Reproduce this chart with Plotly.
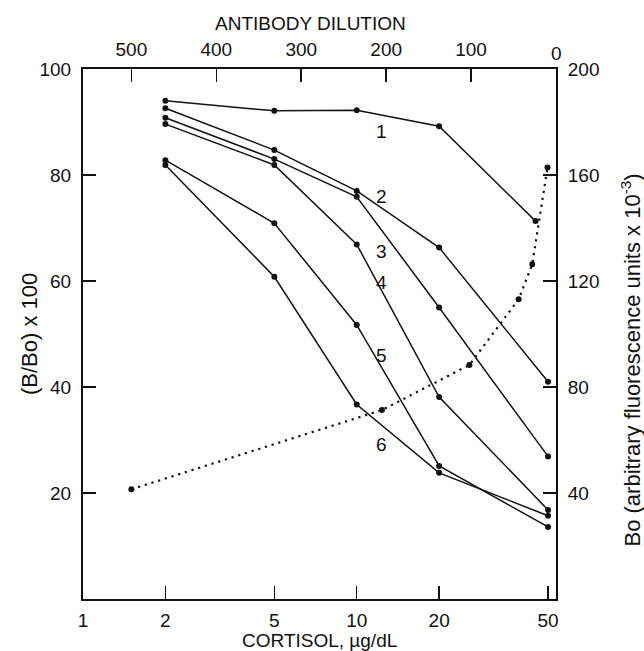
import plotly.graph_objects as go
import numpy as np

# ---- data ----
cortisol = [2, 5, 10, 20, 50]
curve1_x = [2, 5, 10, 20, 45]
curve1_y = [94.0, 92.1, 92.2, 89.2, 71.3]
curve2_y = [92.6, 84.7, 77.0, 66.3, 41.0]
curve3_y = [90.8, 83.0, 75.9, 55.0, 26.9]
curve4_y = [89.6, 81.9, 66.9, 38.1, 16.8]
curve5_y = [82.8, 70.9, 51.7, 25.1, 13.6]
curve6_y = [81.9, 60.8, 36.7, 23.8, 15.7]

bo_dilution = [500, 205, 102, 44, 28, 10]
bo_values = [41.4, 71.3, 88.3, 113.1, 126.3, 162.8]

curve_labels = ["1", "2", "3", "4", "5", "6"]
label_x = [12.3, 12.3, 12.3, 12.3, 12.3, 12.3]
label_y = [88.2, 76.0, 65.5, 59.7, 46.0, 29.1]

bottom_ticks = [1, 2, 5, 10, 20, 50]
top_ticks = [500, 400, 300, 200, 100]
left_ticks = [20, 40, 60, 80, 100]
right_ticks = [40, 80, 120, 160, 200]

INK = "#111111"
FONT = "Liberation Sans, Arial, Helvetica, sans-serif"

fig = go.Figure()

series = [
    (curve1_x, curve1_y),
    (cortisol, curve2_y),
    (cortisol, curve3_y),
    (cortisol, curve4_y),
    (cortisol, curve5_y),
    (cortisol, curve6_y),
]
for xs, ys in series:
    fig.add_trace(go.Scatter(
        x=xs, y=ys, mode="lines+markers",
        line=dict(color=INK, width=1.5),
        marker=dict(color=INK, size=6),
        xaxis="x", yaxis="y", showlegend=False, hoverinfo="skip"))

fig.add_trace(go.Scatter(
    x=bo_dilution, y=bo_values, mode="lines+markers",
    line=dict(color=INK, width=2.2, dash="2.2px,4.8px"),
    marker=dict(color=INK, size=6),
    xaxis="x2", yaxis="y2", showlegend=False, hoverinfo="skip"))

for t, lx, ly in zip(curve_labels, label_x, label_y):
    fig.add_annotation(x=np.log10(lx), y=ly, xref="x", yref="y", text=t,
                       showarrow=False, font=dict(size=19, color=INK, family=FONT),
                       xanchor="center", yanchor="middle")

axis_common = dict(showline=True, linecolor=INK, linewidth=2, ticks="inside",
                   ticklen=13, tickwidth=1.5, tickcolor=INK, showgrid=False,
                   zeroline=False, automargin=False,
                   tickfont=dict(size=19, color=INK, family=FONT))

fig.update_layout(
    width=644, height=651,
    margin=dict(l=83, r=88, t=69, b=52),
    paper_bgcolor="white", plot_bgcolor="white",
    font=dict(family=FONT, color=INK, size=19),
    xaxis=dict(type="log", range=[0, 1.728], tickvals=bottom_ticks,
               ticktext=[str(v) for v in bottom_ticks],
               ticklabelstandoff=3, **axis_common),
    xaxis2=dict(overlaying="x", side="top", anchor="y", range=[557, 0],
                tickvals=top_ticks, ticktext=[str(v) for v in top_ticks],
                ticklabelstandoff=3, **axis_common),
    yaxis=dict(range=[0, 100], tickvals=left_ticks,
               ticktext=[str(v) for v in left_ticks],
               ticklabelstandoff=6, **axis_common),
    yaxis2=dict(overlaying="y", side="right", anchor="x", range=[0, 200],
                tickvals=right_ticks, ticktext=[str(v) for v in right_ticks],
                ticklabelstandoff=6, **axis_common),
)

ann_font = dict(color=INK, family=FONT)
# top "0" label above the top-right corner
fig.add_annotation(x=0, y=1, xref="x2", yref="paper", text="0", showarrow=False,
                   yanchor="bottom", yshift=3, font=dict(size=19, **ann_font))
# axis titles
fig.add_annotation(x=0.48, y=1, xref="paper", yref="paper", text="ANTIBODY DILUTION",
                   showarrow=False, xanchor="center", yanchor="middle", yshift=46,
                   font=dict(size=19, **ann_font))
fig.add_annotation(x=0.5, y=0, xref="paper", yref="paper", text="CORTISOL, µg/dL",
                   showarrow=False, xanchor="center", yanchor="middle", yshift=-41,
                   font=dict(size=19, **ann_font))
fig.add_annotation(x=0, y=0.5, xref="paper", yref="paper", text="(B/Bo) x 100",
                   showarrow=False, textangle=-90, xanchor="center", yanchor="middle",
                   xshift=-54, font=dict(size=22, **ann_font))
fig.add_annotation(x=1, y=0.45, xref="paper", yref="paper",
                   text="Bo (arbitrary fluorescence units x 10<sup>-3</sup>)",
                   showarrow=False, textangle=-90, xanchor="center", yanchor="middle",
                   xshift=74, font=dict(size=22, **ann_font))

fig.write_html("out.html", config={"displayModeBar": False, "staticPlot": True},
               post_script="document.body.style.margin='0px';")
